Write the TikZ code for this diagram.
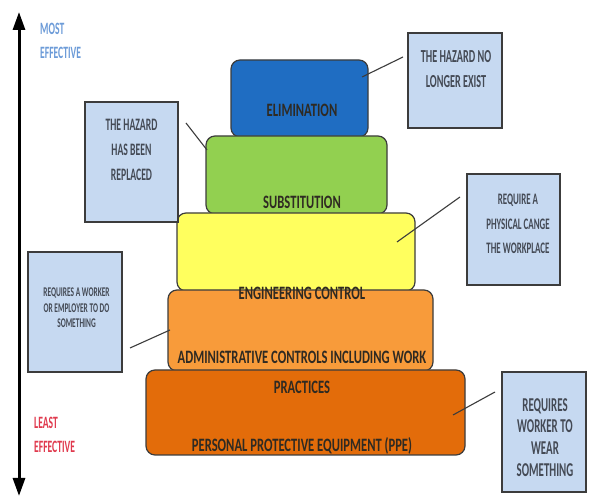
\documentclass[tikz,border=0pt]{standalone}
\usepackage{fontspec}
\setmainfont{Carlito}
\usepackage{tikz}
\usetikzlibrary{arrows.meta,positioning}
\definecolor{ink}{HTML}{2F2A22}
\definecolor{notink}{HTML}{444A55}
\definecolor{edge}{HTML}{3C3C3C}
\definecolor{elimfill}{HTML}{1F6DC2}
\definecolor{substfill}{HTML}{92D050}
\definecolor{engfill}{HTML}{FFFF5E}
\definecolor{adminfill}{HTML}{F89B3A}
\definecolor{ppefill}{HTML}{E36C0A}
\definecolor{notefill}{HTML}{C6D9F1}
\definecolor{most}{HTML}{6C9BD8}
\definecolor{least}{HTML}{E03A4E}

\begin{document}
\begin{tikzpicture}[
  x=1pt, y=1pt,
  tier/.style={draw=edge, line width=1.2pt, rounded corners=9pt, inner sep=0pt, outer sep=0pt},
  tiertext/.style={text=ink, font=\fontsize{12.6}{20}\bfseries, align=center, inner sep=0pt, yscale=1.5},
  note/.style={draw=edge, line width=1.4pt, fill=notefill, inner sep=0pt, outer sep=0pt},
  notetext/.style={text=notink, align=center, inner sep=0pt, yscale=1.8},
  sidetext/.style={align=left, anchor=west, inner sep=0pt, yscale=1.8, font=\fontsize{9.6}{13.3}\bfseries},
  lead/.style={draw=edge, line width=1.1pt},
  axisarr/.style={{Triangle[length=18pt,width=12pt]}-{Triangle[length=18pt,width=12pt]}, line width=3pt, black}
]
  \useasboundingbox (0,0) rectangle (590,497);
  \fill[white] (0,0) rectangle (590,497);

  % effectiveness scale
  \coordinate (hi) at (19,485);
  \coordinate (lo) at (19,1);
  \draw[axisarr] (hi) -- (lo);
  \node[sidetext, text=most] (mosteff) at (40,456) {MOST\\EFFECTIVE};
  \node[sidetext, text=least] (leasteff) at (34,62) {LEAST\\EFFECTIVE};

  % the hierarchy, top tier first
  \node[tier, fill=elimfill, minimum width=137pt, minimum height=77pt] (elim) at (299.5,398.5) {};
  \node[tier, fill=substfill, minimum width=181pt, minimum height=78pt, below=-1pt of elim, xshift=-3pt] (subst) {};
  \node[tier, fill=engfill, minimum width=238pt, minimum height=78pt, below=-1pt of subst, xshift=-0.5pt] (eng) {};
  \node[tier, fill=adminfill, minimum width=265pt, minimum height=81pt, below=-1pt of eng, xshift=4.5pt] (admin) {};
  \node[tier, fill=ppefill, minimum width=319pt, minimum height=85pt, below=-1pt of admin, xshift=5pt] (ppe) {};

  \node[tiertext] (elimtxt) at (302,387) {ELIMINATION};
  \node[tiertext] (substtxt) at (302,295) {SUBSTITUTION};
  \node[tiertext] (engtxt) at (302,204) {ENGINEERING CONTROL};
  \node[tiertext] (admintxt) at (302,125) {ADMINISTRATIVE CONTROLS INCLUDING WORK\\PRACTICES};
  \node[tiertext] (ppetxt) at (302,51) {PERSONAL PROTECTIVE EQUIPMENT (PPE)};

  % notes
  \node[note, minimum width=94pt, minimum height=95pt] (b1) at (455,416.5) {};
  \node[note, minimum width=93pt, minimum height=120pt] (b2) at (131.5,335) {};
  \node[note, minimum width=93pt, minimum height=111pt] (b3) at (513.5,267.5) {};
  \node[note, minimum width=94pt, minimum height=120pt] (b4) at (75,185) {};
  \node[note, minimum width=84pt, minimum height=120pt] (b5) at (544,65) {};

  \node[notetext, font=\fontsize{10.2}{13.9}\bfseries] (t1) at (456,427.5) {THE HAZARD NO\\LONGER EXIST};
  \node[notetext, font=\fontsize{9.7}{13.9}\bfseries] (t2) at (131.5,347) {THE HAZARD\\HAS BEEN\\REPLACED};
  \node[notetext, font=\fontsize{8.9}{13.6}\bfseries] (t3) at (518,273) {REQUIRE A\\PHYSICAL CANGE\\THE WORKPLACE};
  \node[notetext, font=\fontsize{7.4}{8.6}\bfseries] (t4) at (76.5,189) {REQUIRES A WORKER\\OR EMPLOYER TO DO\\SOMETHING};
  \node[notetext, font=\fontsize{10.9}{12.1}\bfseries] (t5) at (545,59.5) {REQUIRES\\WORKER TO\\WEAR\\SOMETHING};

  % leader lines
  \coordinate (e1) at (362,420); \coordinate (n1) at (403,440);
  \coordinate (e2) at (207,347); \coordinate (n2) at (186,374);
  \coordinate (e3) at (397,255); \coordinate (n3) at (460,300);
  \coordinate (e4) at (170,167); \coordinate (n4) at (130,149);
  \coordinate (e5) at (453,82);  \coordinate (n5) at (495,105);
  \draw[lead] (e1) -- (n1);
  \draw[lead] (e2) -- (n2);
  \draw[lead] (e3) -- (n3);
  \draw[lead] (e4) -- (n4);
  \draw[lead] (e5) -- (n5);
\end{tikzpicture}
\end{document}
